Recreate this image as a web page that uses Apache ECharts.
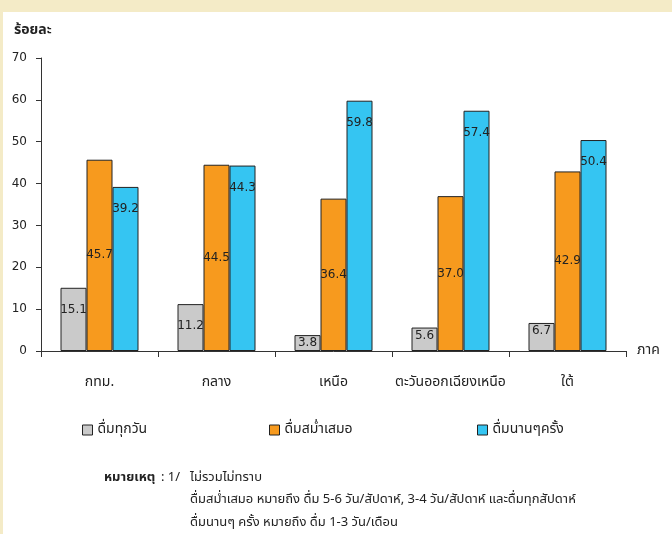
<!DOCTYPE html>
<html>
<head>
<meta charset="utf-8">
<script src="https://cdn.jsdelivr.net/npm/echarts@6/dist/echarts.min.js"></script>
<style>
  html, body { margin: 0; padding: 0; }
  #chart { width: 672px; height: 534px; }
</style>
</head>
<body>
<div id="chart"></div>
<script>
// ข้อมูล
const categories = ['กทม.', 'กลาง', 'เหนือ', 'ตะวันออกเฉียงเหนือ', 'ใต้']
const seriesNames = ['ดื่มทุกวัน', 'ดื่มสม่ำเสมอ', 'ดื่มนานๆครั้ง']
const dailyValues = [15.1, 11.2, 3.8, 5.6, 6.7]
const regularValues = [45.7, 44.5, 36.4, 37.0, 42.9]
const occasionalValues = [39.2, 44.3, 59.8, 57.4, 50.4]
const yTicks = [0, 10, 20, 30, 40, 50, 60, 70]
const noteLines = ['ไม่รวมไม่ทราบ', 'ดื่มสม่ำเสมอ หมายถึง ดื่ม 5-6 วัน/สัปดาห์, 3-4 วัน/สัปดาห์ และดื่มทุกสัปดาห์', 'ดื่มนานๆ ครั้ง หมายถึง ดื่ม 1-3 วัน/เดือน']

const FONT = '"DejaVu Sans", "Noto Sans", sans-serif'
const THAI = 'Tahoma, "Noto Sans Thai", "Noto Sans", "DejaVu Sans", sans-serif'
const colors = ['#cacaca', '#f79a1e', '#35c5f2']

const chart = echarts.init(document.getElementById('chart'))

const labelBase = {
  show: true,
  color: '#222',
  fontFamily: FONT,
  fontSize: 12,
  formatter: p => p.value.toFixed(1)
}

// แท่งสีเทา: แท่งสั้นให้ป้ายชิดด้านบน
const dailyData = dailyValues.map(v => ({
  value: v,
  label: { position: 'insideTop', distance: v < 10 ? 2 : 16 }
}))

function makeSeries(name, data, color, label) {
  return {
    name: name,
    type: 'bar',
    data: data,
    barWidth: 26,
    barGap: '0%',
    itemStyle: { color: color, borderColor: '#222', borderWidth: 1 },
    label: Object.assign({}, labelBase, label),
    animation: false
  }
}

const legendX = [77, 264, 472]

const option = {
  backgroundColor: '#f4ebc7',
  color: colors,
  grid: { left: 41, right: 46, top: 58, bottom: 183 },
  legend: seriesNames.map((n, i) => ({
    data: [n],
    left: legendX[i],
    top: 418,
    icon: 'rect',
    itemWidth: 10,
    itemHeight: 10,
    itemGap: 6,
    itemStyle: { borderColor: '#222', borderWidth: 1 },
    textStyle: { fontFamily: THAI, fontSize: 14, color: '#222' }
  })),
  xAxis: {
    type: 'category',
    data: categories,
    name: 'ภาค',
    nameLocation: 'end',
    nameGap: 11,
    nameTextStyle: { fontFamily: THAI, fontSize: 14, color: '#222' },
    axisLine: { lineStyle: { color: '#333', width: 1 } },
    axisTick: { show: true, length: 6, lineStyle: { color: '#333' } },
    axisLabel: { interval: 0, margin: 25, fontFamily: THAI, fontSize: 14, color: '#222' }
  },
  yAxis: {
    type: 'value',
    min: yTicks[0],
    max: yTicks[yTicks.length - 1],
    interval: 10,
    axisLine: { show: true, lineStyle: { color: '#333', width: 1 } },
    axisTick: { show: true, length: 5, lineStyle: { color: '#333' } },
    splitLine: { show: false },
    axisLabel: { margin: 14, fontFamily: FONT, fontSize: 12, color: '#222' }
  },
  graphic: [
    {
      type: 'rect',
      z: -10,
      shape: { x: 3, y: 12, width: 669, height: 522 },
      style: { fill: '#ffffff' }
    },
    {
      type: 'text',
      left: 14,
      top: 24,
      style: { text: 'ร้อยละ', font: 'bold 14px ' + THAI, fill: '#222' }
    },
    {
      type: 'text',
      left: 104,
      top: 472,
      style: { text: 'หมายเหตุ', font: 'bold 13px ' + THAI, fill: '#222' }
    },
    {
      type: 'text',
      left: 161,
      top: 472,
      style: { text: ': 1/', font: '13px ' + THAI, fill: '#222' }
    },
    {
      type: 'text',
      left: 190,
      top: 472,
      style: { text: noteLines[0], font: '13px ' + THAI, fill: '#222' }
    },
    {
      type: 'text',
      left: 190,
      top: 494,
      style: { text: noteLines[1], font: '13px ' + THAI, fill: '#222' }
    },
    {
      type: 'text',
      left: 190,
      top: 517,
      style: { text: noteLines[2], font: '13px ' + THAI, fill: '#222' }
    }
  ],
  series: [
    makeSeries(seriesNames[0], dailyData, colors[0], {}),
    makeSeries(seriesNames[1], regularValues, colors[1], { position: 'inside' }),
    makeSeries(seriesNames[2], occasionalValues, colors[2], { position: 'insideTop', distance: 16 })
  ]
}

chart.setOption(option)
</script>
</body>
</html>
